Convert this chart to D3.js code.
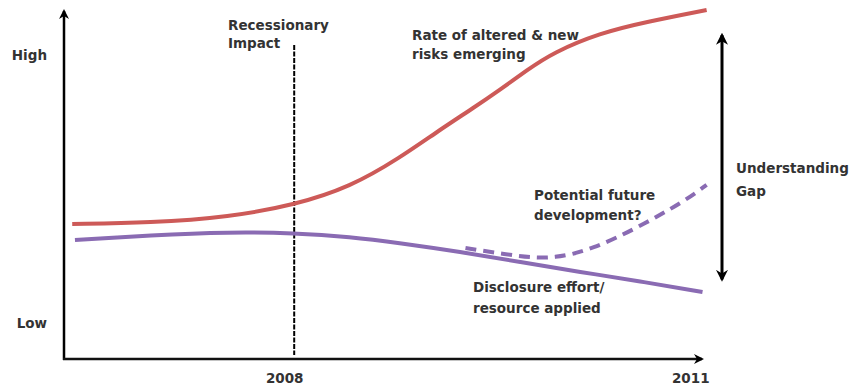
<!DOCTYPE html>
<html><head><meta charset="utf-8">
<script src="https://cdn.jsdelivr.net/npm/d3@7"></script>
<style>
html,body{margin:0;padding:0;background:#fff;}
svg{display:block;}
text{font-family:"DejaVu Sans",sans-serif;font-weight:bold;fill:#333;}
</style></head>
<body>
<script>
// ---- data ----
const xTickValues = [2008, 2011];
const xTickLabels = ["2008", "2011"];
const yTickValues = [10.3, 87.1];
const yTickLabels = ["Low", "High"];

const riskYears  = [2006.38, 2006.95, 2007.53, 2008.0, 2008.41, 2008.77, 2009.06, 2009.31, 2009.50, 2009.70, 2009.89, 2010.23, 2010.57, 2011.01];
const riskValues = [38.7, 39.0, 40.7, 44.1, 49.3, 57.6, 65.6, 72.0, 77.1, 82.8, 87.8, 93.4, 96.6, 100];

const effortYears  = [2006.40, 2006.95, 2007.53, 2008.0, 2008.41, 2008.77, 2009.21, 2009.65, 2010.09, 2010.52, 2010.98];
const effortValues = [34.1, 35.5, 36.4, 36.1, 35.0, 33.2, 30.7, 27.8, 24.9, 22.3, 19.2];

const futureYears  = [2009.25, 2009.65, 2009.90, 2010.18, 2010.50, 2010.84, 2011.01];
const futureValues = [31.8, 29.3, 28.7, 31.5, 37.5, 45.0, 49.9];

const recessionYear = 2008;
const gapRange = [22.8, 92.8];

// ---- layout ----
const W = 858, H = 386;
const FS = "13.5px";
const svg = d3.select("body").append("svg").attr("width", W).attr("height", H);

const x = d3.scaleLinear().domain([2006.32, 2011.02]).range([64, 708]);
const y = d3.scaleLinear().domain([0, 100]).range([359, 10]);

const defs = svg.append("defs");
function marker(id, orient) {
  defs.append("marker").attr("id", id)
    .attr("viewBox", "0 0 10 10").attr("refX", 8).attr("refY", 5)
    .attr("markerWidth", 4).attr("markerHeight", 4)
    .attr("markerUnits", "strokeWidth")
    .attr("orient", orient)
    .append("path").attr("d", "M0,0 L10,5 L0,10 L3,5 Z").attr("fill", "#000");
}
marker("arrow", "auto");
marker("arrowStart", "auto-start-reverse");

// axes (labels via d3 axes)
const xAxis = d3.axisBottom(x).tickValues(xTickValues)
  .tickFormat((d, i) => xTickLabels[i]).tickSize(0).tickPadding(14);
const gx = svg.append("g").attr("transform", `translate(0,${y(0)})`).call(xAxis);
gx.select(".domain").remove();
gx.selectAll("text").style("font-size", FS).attr("dx", (d, i) => i ? -15 : -10);

const yAxis = d3.axisLeft(y).tickValues(yTickValues)
  .tickFormat((d, i) => yTickLabels[i]).tickSize(0).tickPadding(17);
const gy = svg.append("g").attr("transform", `translate(${x.range()[0]},0)`).call(yAxis);
gy.select(".domain").remove();
gy.selectAll("text").style("font-size", FS);

// axis arrows
svg.append("line").attr("x1", x.range()[0]).attr("y1", y(0) + 1)
  .attr("x2", x.range()[0]).attr("y2", y.range()[1] + 1)
  .attr("stroke", "#000").attr("stroke-width", 2.5).attr("marker-end", "url(#arrow)");
svg.append("line").attr("x1", x.range()[0] - 1).attr("y1", y(0))
  .attr("x2", x.range()[1] - 6).attr("y2", y(0))
  .attr("stroke", "#111").attr("stroke-width", 2.5).attr("marker-end", "url(#arrow)");

// recession line
svg.append("line").attr("x1", x(recessionYear)).attr("x2", x(recessionYear))
  .attr("y1", 45).attr("y2", y(0) - 4)
  .attr("stroke", "#000").attr("stroke-width", 2).attr("stroke-dasharray", "5,1.5");

const line = d3.line().x(d => x(d[0])).y(d => y(d[1])).curve(d3.curveBasis);
const zip = (a, b) => a.map((v, i) => [v, b[i]]);

svg.append("path").datum(zip(effortYears, effortValues)).attr("d", line)
  .attr("fill", "none").attr("stroke", "#8a6bb3").attr("stroke-width", 4);
svg.append("path").datum(zip(futureYears, futureValues)).attr("d", line)
  .attr("fill", "none").attr("stroke", "#8a6bb3").attr("stroke-width", 4)
  .attr("stroke-dasharray", "11,7");
svg.append("path").datum(zip(riskYears, riskValues)).attr("d", line)
  .attr("fill", "none").attr("stroke", "#cd5a58").attr("stroke-width", 4);

// understanding gap arrow
svg.append("line").attr("x1", 722).attr("x2", 722)
  .attr("y1", y(gapRange[1])).attr("y2", y(gapRange[0]))
  .attr("stroke", "#000").attr("stroke-width", 3)
  .attr("marker-start", "url(#arrowStart)").attr("marker-end", "url(#arrow)");

// annotations
function label(lines, lx, ly, gap) {
  const t = svg.append("text").attr("x", lx).attr("y", ly).style("font-size", FS);
  lines.forEach((s, i) => t.append("tspan").attr("x", lx).attr("dy", i ? gap : 0).text(s));
}
label(["Recessionary", "Impact"], 228, 30, 18);
label(["Rate of altered & new", "risks emerging"], 412, 40, 19);
label(["Potential future", "development?"], 534, 200, 20);
label(["Disclosure effort/", "resource applied"], 473, 292, 21);
label(["Understanding", "Gap"], 736, 173, 23);
</script>
</body></html>
